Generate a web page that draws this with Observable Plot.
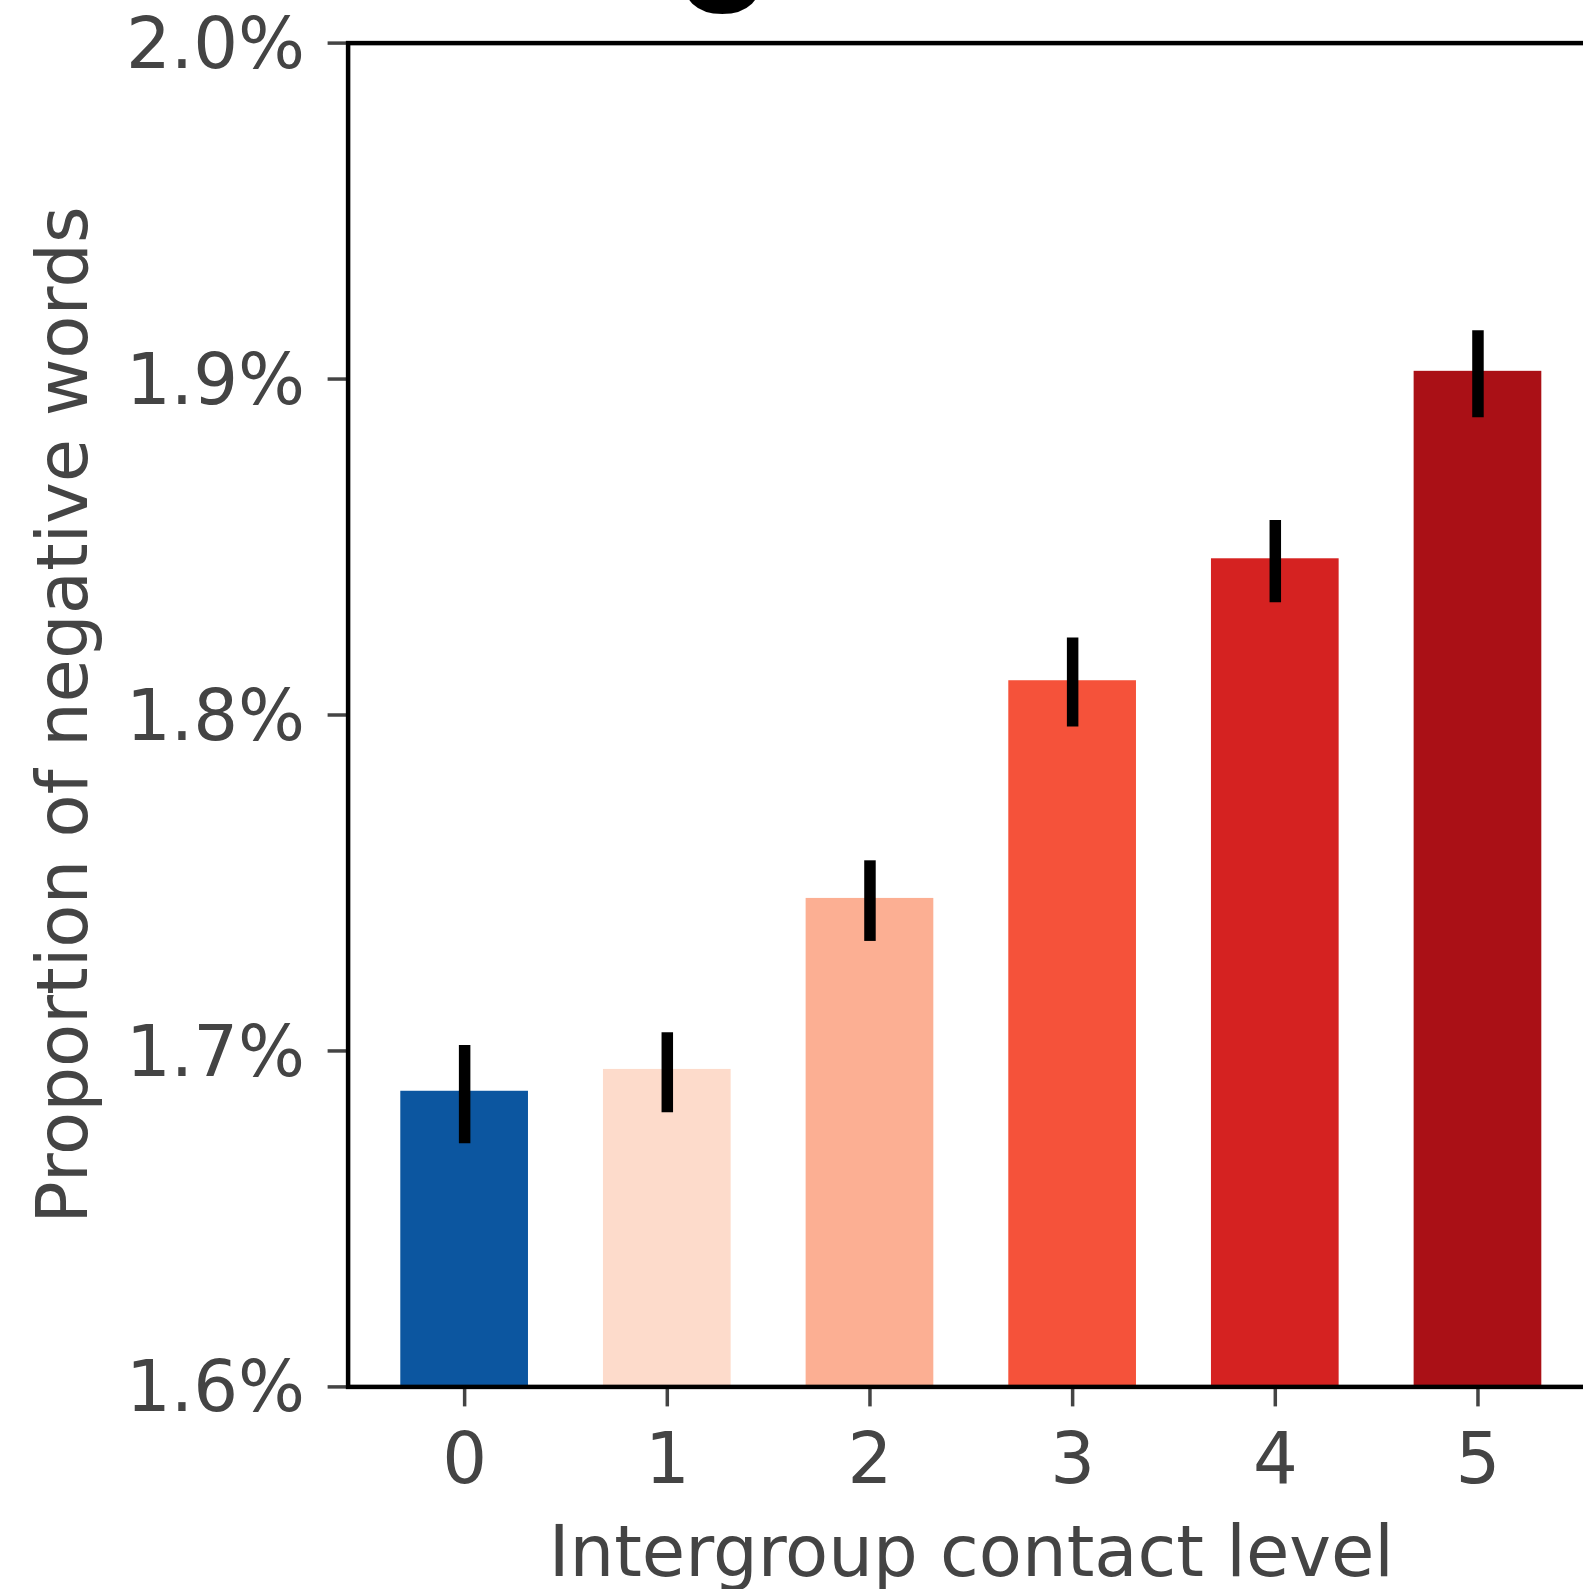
<!DOCTYPE html>
<html>
<head>
<meta charset="utf-8">
<script src="https://cdn.jsdelivr.net/npm/d3@7"></script>
<script src="https://cdn.jsdelivr.net/npm/@observablehq/plot@0.6"></script>
<style>
  html, body { margin: 0; padding: 0; background: #fff; overflow: hidden; }
  #wrap { position: relative; width: 1583px; height: 1589px; overflow: hidden; }
  #chart { position: absolute; left: 0; top: 0; width: 1600px; }
  #chart svg { max-width: none !important; }
  #title { position: absolute; left: 0; top: 0; }
</style>
</head>
<body>
<div id="wrap">
  <div id="chart"></div>
  <svg id="title" width="1583" height="40"><text x="722" y="11.5" text-anchor="middle" font-family="DejaVu Sans" font-weight="bold" font-size="135" fill="#000">o</text></svg>
</div>
<script>
// Data
const levels = [0, 1, 2, 3, 4, 5];
const means = [1.688, 1.6945, 1.7454, 1.8102, 1.8465, 1.9023];
const errLow = [1.6724, 1.6816, 1.7326, 1.7964, 1.8334, 1.8885];
const errHigh = [1.7016, 1.7054, 1.7566, 1.8229, 1.8579, 1.9144];
const colors = ["#0c56a0", "#fddbcb", "#fcaf93", "#f5523a", "#d52221", "#aa1016"];
const yTicks = [1.6, 1.7, 1.8, 1.9, 2.0];
const yDomain = [1.6, 2.0];
const xLabel = "Intergroup contact level";
const yLabel = "Proportion of negative words";

const data = levels.map((l, i) => ({level: l, mean: means[i], lo: errLow[i], hi: errHigh[i], base: yDomain[0]}));

const chart = Plot.plot({
  width: 1600,
  height: 1589,
  marginLeft: 347.6,
  marginRight: 6,
  marginTop: 42.6,
  marginBottom: 202.6,
  style: {fontFamily: "DejaVu Sans", fontSize: "70.5px", background: "transparent", overflow: "visible", maxWidth: "none"},
  x: {type: "band", domain: levels, paddingInner: 0.37, paddingOuter: 0.26, align: 0.5, round: false},
  y: {domain: yDomain},
  color: {type: "ordinal", domain: levels, range: colors},
  marks: [
    Plot.barY(data, {x: "level", y1: "base", y2: "mean", fill: "level"}),
    Plot.ruleX(data, {x: "level", y1: "lo", y2: "hi", stroke: "#000", strokeWidth: 11.5}),
    Plot.axisX({
      ticks: levels, tickSize: 20, tickPadding: 25.6, color: "#444", strokeWidth: 3.5,
      label: xLabel, labelAnchor: "center", labelOffset: 189, fontSize: 70.5
    }),
    Plot.axisY({
      ticks: yTicks, tickFormat: () => "", tickSize: 20, tickPadding: 23,
      color: "#444", strokeWidth: 3.5,
      label: yLabel, labelAnchor: "center", labelOffset: 311, labelArrow: "none", fontSize: 70.5
    }),
    Plot.axisY({
      ticks: yTicks, tickFormat: d => d.toFixed(1) + "%", tickSize: 0, tickPadding: 43,
      color: "#444", dy: 2, label: null, fontSize: 70.5
    }),
    Plot.frame({stroke: "#000", strokeWidth: 4.5})
  ]
});
document.getElementById("chart").appendChild(chart);
</script>
</body>
</html>
